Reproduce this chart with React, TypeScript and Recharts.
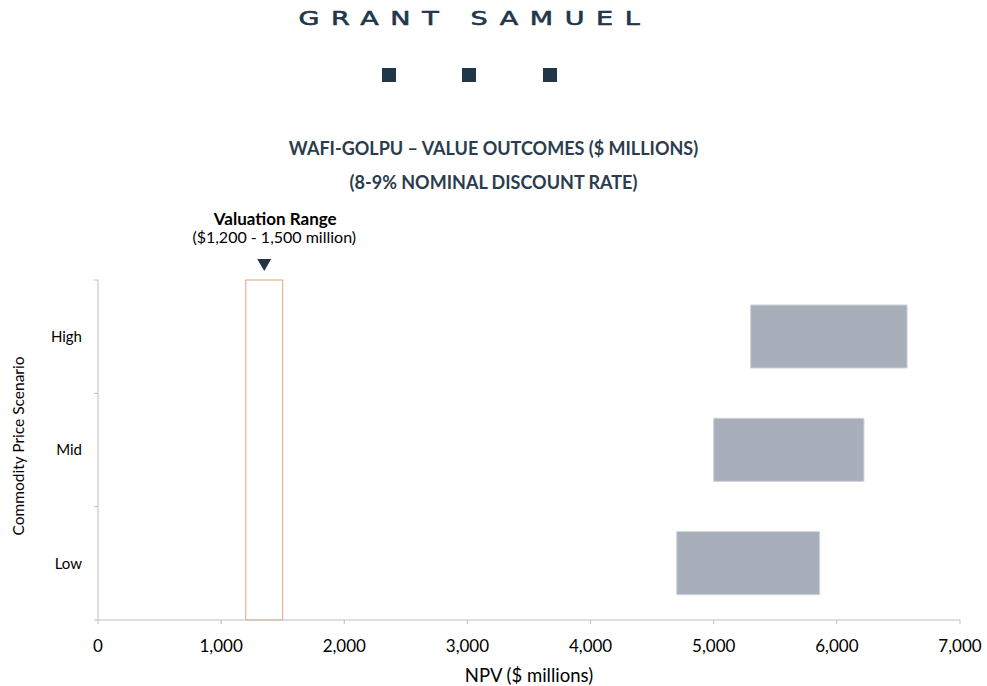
import React from 'react';
import { ComposedChart, Bar, XAxis, YAxis, ReferenceArea } from 'recharts';

const categories = ['High', 'Mid', 'Low'];
const lowValues = [5300, 5000, 4700];
const highValues = [6570, 6220, 5860];
const xTicks = [0, 1000, 2000, 3000, 4000, 5000, 6000, 7000];
const valuationRange = [1200, 1500];

const data = categories.map((c, i) => ({ name: c, range: [lowValues[i], highValues[i]] }));

const FONT = 'Lato, "Open Sans", sans-serif';
const NAVY = '#22364A';
const AXIS = '#BFBFBF';
const TICK_MARGIN_Y = 16;

const fmt = (v: number) => v.toLocaleString('en-US');

const CategoryTick = (props: any) => {
  const { x, y, payload, index } = props;
  const half = payload && payload.offset ? payload.offset : 0;
  const axisX = x + TICK_MARGIN_Y;
  return (
    <g>
      <line x1={axisX - 4} x2={axisX} y1={y - half} y2={y - half} stroke={AXIS} />
      {index === categories.length - 1 && (
        <line x1={axisX - 4} x2={axisX} y1={y + half} y2={y + half} stroke={AXIS} />
      )}
      <text x={x} y={y} dy="0.35em" textAnchor="end" fontFamily={FONT} fontSize={15} fill="#000">
        {payload.value}
      </text>
    </g>
  );
};

const ValuationShape = (props: any) => {
  const { x, y, width, height } = props;
  const cx = x + width / 2;
  return (
    <g>
      <rect x={x} y={y} width={width} height={height} fill="#FFFFFF" stroke="#E8A27C" strokeWidth={1} />
      <polygon points={`${cx - 7},${y - 21} ${cx + 7},${y - 21} ${cx},${y - 9}`} fill={NAVY} />
      <text x={cx + 11} y={y - 55} textAnchor="middle" fontFamily={FONT} fontSize={17} fontWeight={700} fill="#000">
        Valuation Range
      </text>
      <text x={cx + 10} y={y - 37} textAnchor="middle" fontFamily={FONT} fontSize={16} fill="#000">
        ($1,200 - 1,500 million)
      </text>
    </g>
  );
};

export default function App() {
  return (
    <div style={{ position: 'absolute', left: 0, top: 0, width: 987, height: 686, background: '#fff' }}>
      <svg width={987} height={686} style={{ position: 'absolute', left: 0, top: 0 }}>
        <text
          x={0}
          y={0}
          transform="translate(298.5,25) scale(1.35,1)"
          fontFamily='"DejaVu Sans", sans-serif'
          fontSize={20}
          letterSpacing={8.6}
          fill={NAVY}
          stroke={NAVY}
          strokeWidth={0.6}
        >
          GRANT SAMUEL
        </text>
        <rect x={382} y={68} width={14} height={14} fill={NAVY} />
        <rect x={462} y={68} width={14} height={14} fill={NAVY} />
        <rect x={543} y={68} width={14} height={14} fill={NAVY} />
        <text x={493.5} y={155} textAnchor="middle" fontFamily={FONT} fontSize={18} fontWeight={700} fill="#2B3C4E">
          WAFI-GOLPU – VALUE OUTCOMES ($ MILLIONS)
        </text>
        <text x={493.5} y={189} textAnchor="middle" fontFamily={FONT} fontSize={18} fontWeight={700} fill="#2B3C4E">
          (8-9% NOMINAL DISCOUNT RATE)
        </text>
        <text x={0} y={0} transform="translate(24,446) rotate(-90)" textAnchor="middle" fontFamily={FONT} fontSize={15.5} fill="#000">
          Commodity Price Scenario
        </text>
      </svg>
      <div style={{ position: 'absolute', left: 0, top: 0 }}>
        <ComposedChart
          width={987}
          height={686}
          data={data}
          layout="vertical"
          margin={{ top: 280, right: 27, bottom: 0, left: 0 }}
          style={{ fontFamily: FONT }}
        >
          <YAxis
            type="category"
            dataKey="name"
            width={98}
            axisLine={{ stroke: AXIS }}
            tickLine={false}
            tickSize={0}
            tickMargin={TICK_MARGIN_Y}
            tick={<CategoryTick />}
          />
          <XAxis
            type="number"
            domain={[0, 7000]}
            ticks={xTicks}
            tickFormatter={fmt}
            height={66}
            tickSize={4}
            tickMargin={16}
            axisLine={{ stroke: AXIS }}
            tickLine={{ stroke: AXIS }}
            tick={{ fill: '#000', fontSize: 17, fontFamily: FONT }}
            label={{ value: 'NPV ($ millions)', position: 'insideBottom', offset: 4, fill: '#000', fontSize: 18.5, fontFamily: FONT }}
          />
          <ReferenceArea
            x1={valuationRange[0]}
            x2={valuationRange[1]}
            ifOverflow="visible"
            shape={ValuationShape}
          />
          <Bar
            dataKey="range"
            barSize={63}
            fill="#A8AEBA"
            stroke="#CDD1D8"
            strokeWidth={1}
            isAnimationActive={false}
          />
        </ComposedChart>
      </div>
    </div>
  );
}
